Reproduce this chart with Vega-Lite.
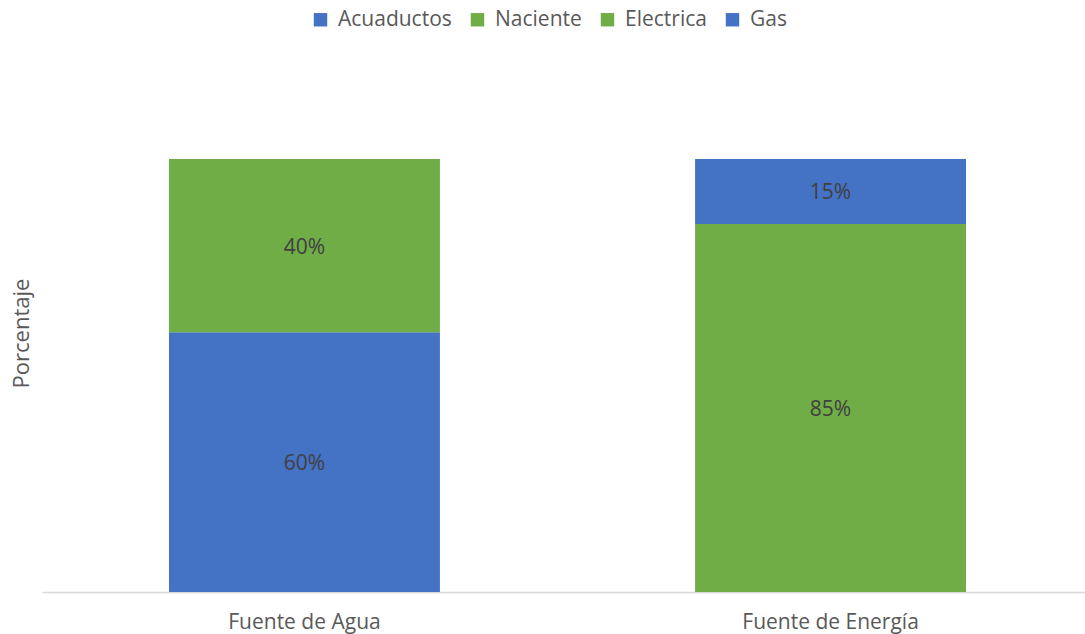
{
  "$schema": "https://vega.github.io/schema/vega-lite/v6.json",
  "autosize": {"type": "none"},
  "width": 1043,
  "height": 433,
  "padding": {"left": 42, "top": 159, "right": 0, "bottom": 42},
  "background": "white",
  "config": {"view": {"stroke": null}, "font": "Open Sans"},
  "data": {"values": [
    {"fuente": "Fuente de Agua", "tipo": "Acuaductos", "orden": 1, "valor": 0.60},
    {"fuente": "Fuente de Agua", "tipo": "Naciente", "orden": 2, "valor": 0.40},
    {"fuente": "Fuente de Energía", "tipo": "Electrica", "orden": 3, "valor": 0.85},
    {"fuente": "Fuente de Energía", "tipo": "Gas", "orden": 4, "valor": 0.15}
  ]},
  "encoding": {
    "x": {
      "field": "fuente", "type": "nominal", "sort": null,
      "scale": {"range": [0, 1051], "paddingInner": 0.485, "paddingOuter": 0.2414},
      "axis": {
        "title": null, "labelAngle": 0, "ticks": false, "grid": false,
        "domainColor": "#d9d9d9", "domainWidth": 1.5,
        "labelFontSize": 21, "labelColor": "#595959", "labelPadding": 19,
        "labelFont": "Open Sans"
      }
    }
  },
  "layer": [
    {
      "mark": {"type": "bar"},
      "encoding": {
        "y": {
          "field": "valor", "type": "quantitative", "stack": "zero",
          "scale": {"domain": [0, 1], "nice": false},
          "axis": {
            "title": "Porcentaje", "labels": false, "ticks": false, "grid": false, "domain": false,
            "titleFontSize": 22, "titleColor": "#595959", "titleFontWeight": "normal",
            "titleFont": "Open Sans", "titleX": -21, "titleY": 174,
            "titleAngle": 270, "titleAlign": "center", "titleBaseline": "middle"
          }
        },
        "order": {"field": "orden", "type": "quantitative"},
        "color": {
          "field": "tipo", "type": "nominal",
          "scale": {
            "domain": ["Acuaductos", "Naciente", "Electrica", "Gas"],
            "range": ["#4472C4", "#70AD47", "#70AD47", "#4472C4"]
          },
          "legend": {
            "title": null, "orient": "none", "direction": "horizontal",
            "legendX": 268, "legendY": -150,
            "symbolType": "square", "symbolSize": 180, "symbolStrokeWidth": 0,
            "labelFontSize": 21, "labelColor": "#595959", "labelFont": "Open Sans",
            "columnPadding": 15, "labelOffset": 7
          }
        }
      }
    },
    {
      "mark": {"type": "text", "fontSize": 21, "color": "#404040", "font": "Open Sans", "dy": 2},
      "encoding": {
        "y": {"field": "valor", "type": "quantitative", "stack": "zero", "bandPosition": 0.5},
        "order": {"field": "orden", "type": "quantitative"},
        "text": {"field": "valor", "type": "quantitative", "format": ".0%"}
      }
    }
  ]
}
